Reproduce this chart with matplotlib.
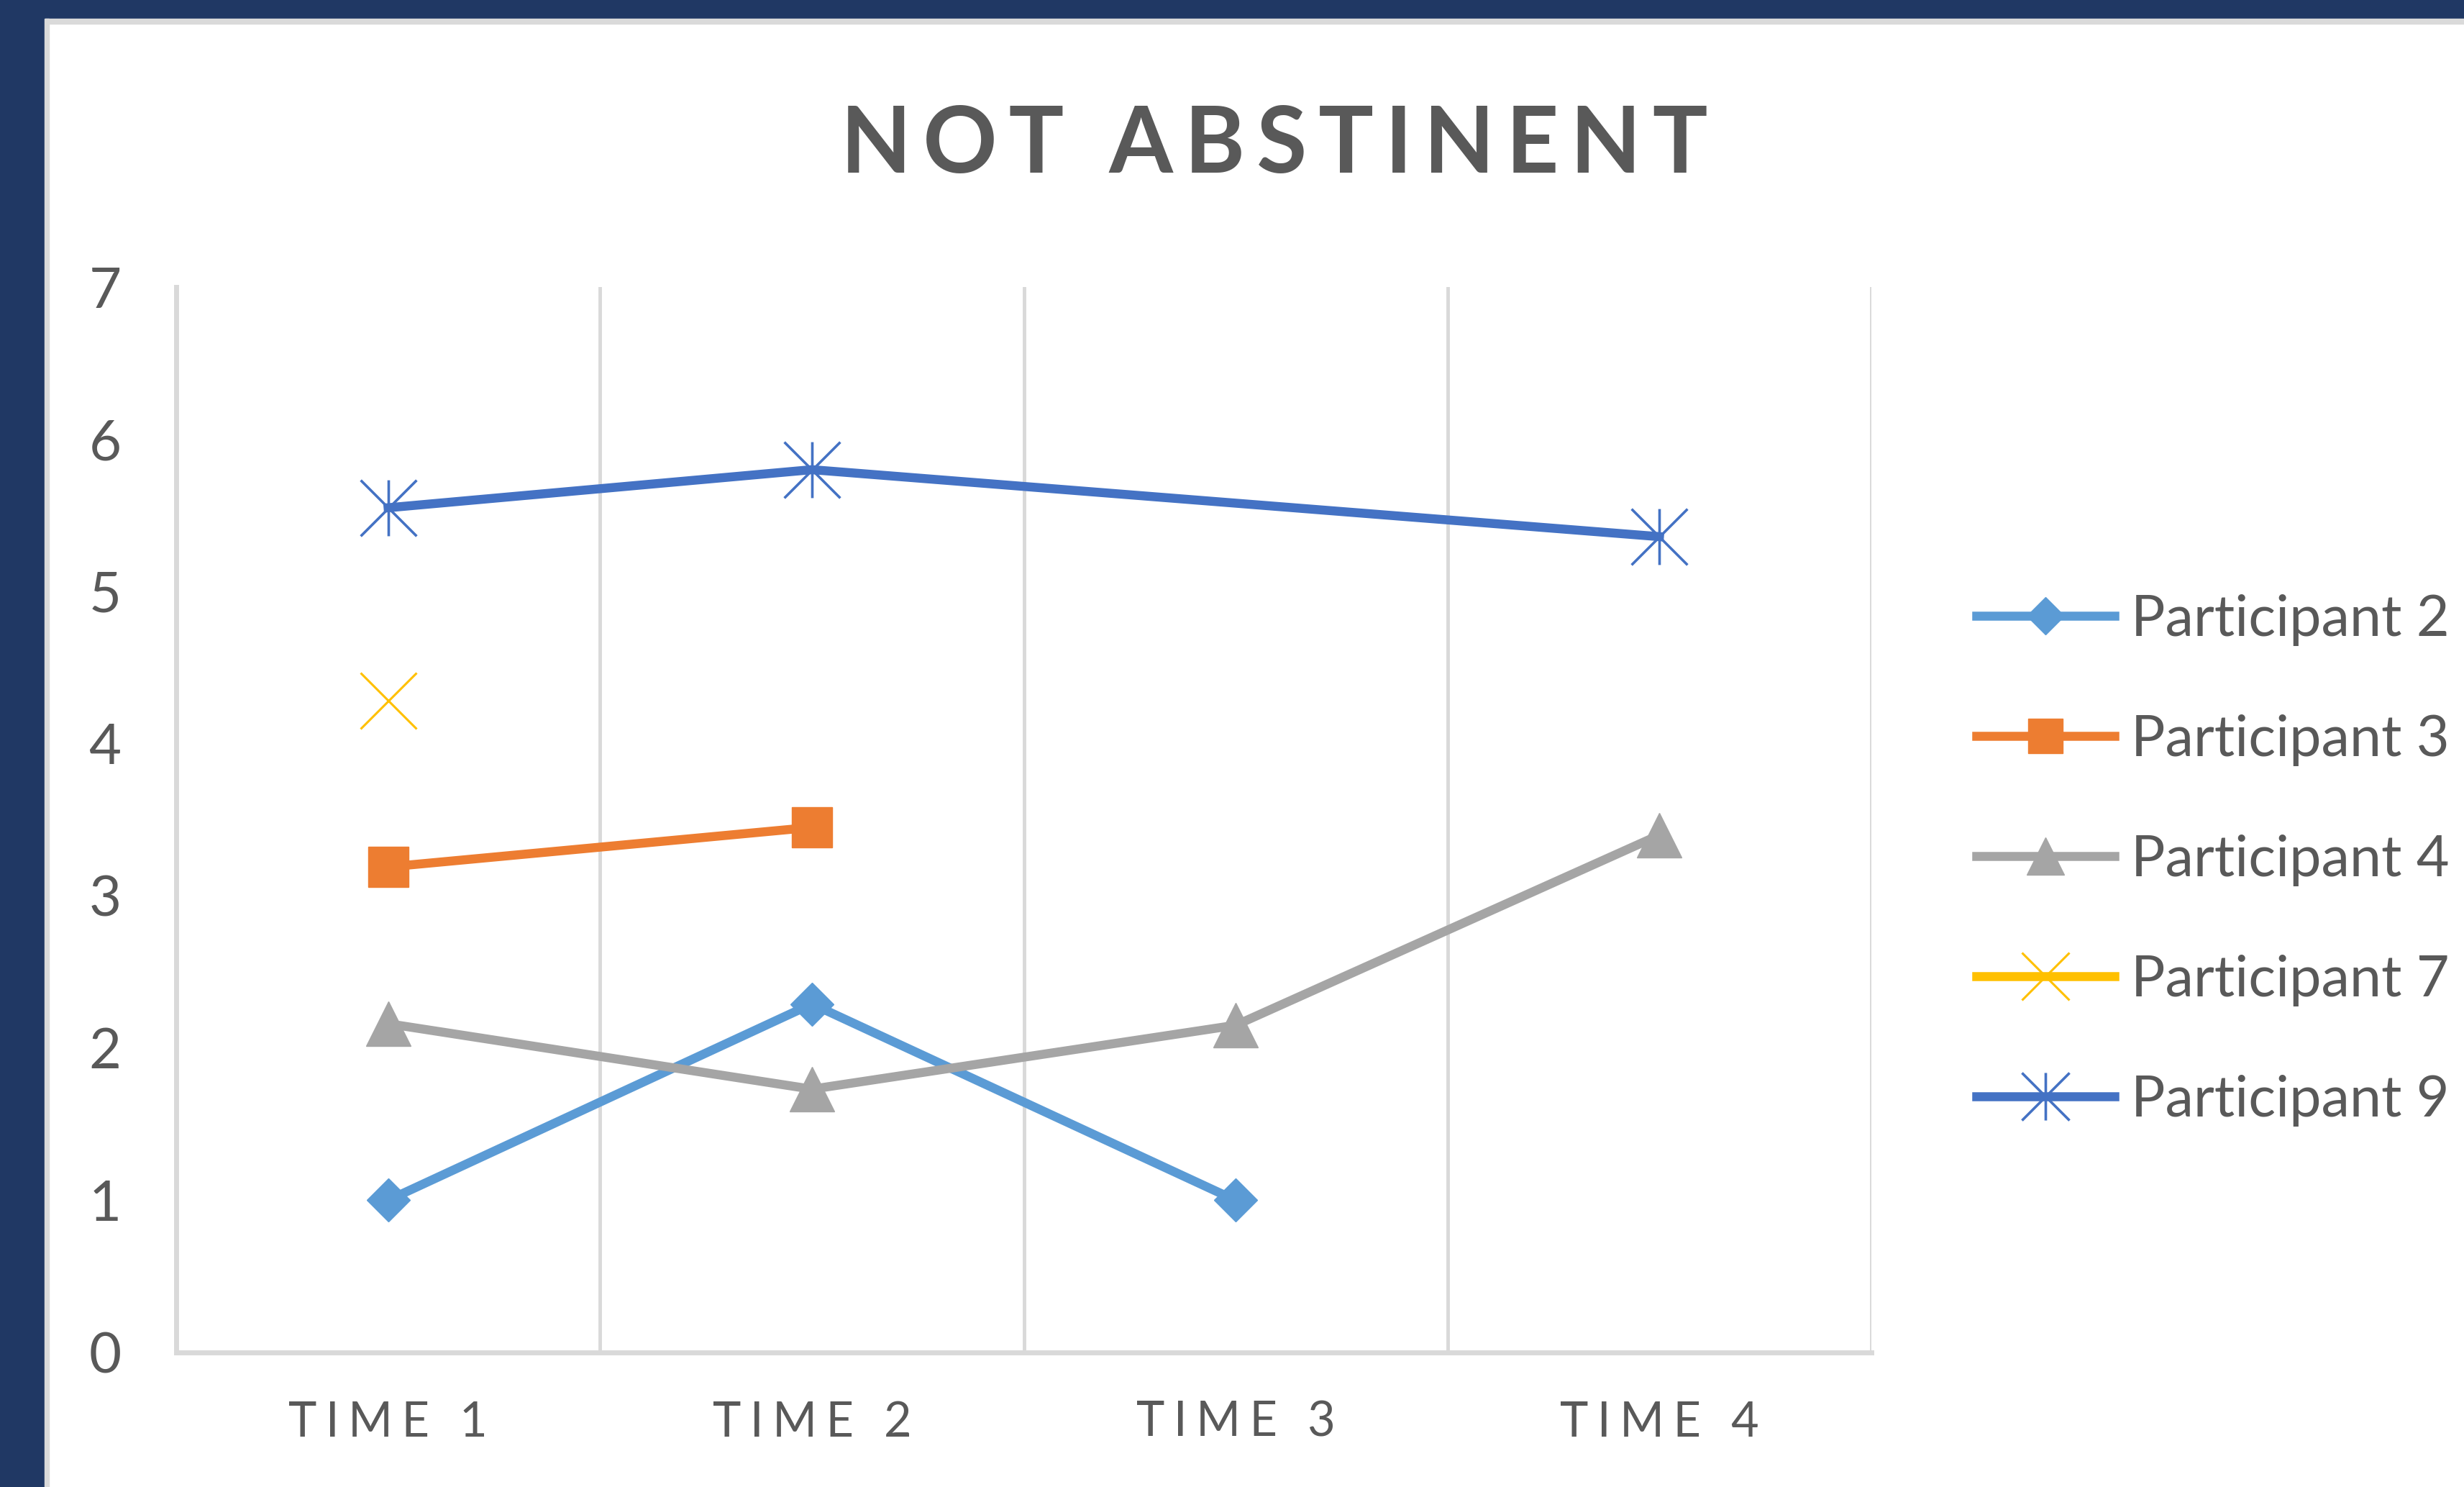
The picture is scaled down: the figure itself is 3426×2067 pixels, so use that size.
import numpy as np
import matplotlib
matplotlib.use("Agg")
import matplotlib.pyplot as plt
from matplotlib.path import Path
from matplotlib.patches import Rectangle

# ---- data ----
categories = ["TIME 1", "TIME 2", "TIME 3", "TIME 4"]
participant_2 = [1.0, 2.29, 1.0, np.nan]
participant_3 = [3.19, 3.45, np.nan, np.nan]
participant_4 = [2.16, 1.73, 2.15, 3.40]
participant_7 = [4.28, np.nan, np.nan, np.nan]
participant_9 = [5.55, 5.80, np.nan, 5.36]
series_names = ["Participant 2", "Participant 3", "Participant 4", "Participant 7", "Participant 9"]
y_ticks = [0, 1, 2, 3, 4, 5, 6, 7]
title_text = "NOT ABSTINENT"

FONT = ["Lato", "DejaVu Sans"]
TXT = "#595959"
GRID = "#D9D9D9"

def spaced(s, sep="\u200a"):
    return sep.join(list(s))

star_path = Path([(-1, -1), (1, 1), (-1, 1), (1, -1), (0, -1), (0, 1)],
                 [Path.MOVETO, Path.LINETO, Path.MOVETO, Path.LINETO, Path.MOVETO, Path.LINETO])

W, H = 3426, 2067
fig = plt.figure(figsize=(W / 100, H / 100), dpi=100)
fig.patch.set_facecolor("white")

# frame borders
navy = "#203864"
fig.patches.append(Rectangle((0, 1 - 26 / H), 1, 26 / H, transform=fig.transFigure, color=navy, zorder=0))
fig.patches.append(Rectangle((62 / W, 1 - 33 / H), 1, 7 / H, transform=fig.transFigure, color="#DADADA", zorder=0))
fig.patches.append(Rectangle((0, 0), 62 / W, 1, transform=fig.transFigure, color=navy, zorder=0))
fig.patches.append(Rectangle((62 / W, 0), 6 / W, 1 - 26 / H, transform=fig.transFigure, color="#DADADA", zorder=0))

ax = fig.add_axes([245 / W, (H - 1880) / H, (2602 - 245) / W, (1880 - 399) / H])
x = np.arange(len(categories))

styles = [
    (participant_2, "#5B9BD5", "D", 31, 1),
    (participant_3, "#ED7D31", "s", 40, 1),
    (participant_4, "#A5A5A5", "^", 44, 1),
    (participant_7, "#FFC000", "x", 56, 2.2),
    (participant_9, "#4472C4", star_path, 56, 2.6),
]
for (vals, col, mk, ms, mew), name in zip(styles, series_names):
    v = np.array(vals, dtype=float)
    m = ~np.isnan(v)
    ax.plot(x[m], v[m], color=col, lw=9, marker=mk, markersize=ms,
            markerfacecolor=col, markeredgecolor=col, markeredgewidth=mew,
            label=name, solid_joinstyle="round", zorder=3)

ax.set_xlim(-0.5, len(categories) - 0.5)
ax.set_ylim(0, 7)
for b in np.arange(0.5, len(categories), 1.0):
    ax.axvline(b, color=GRID, lw=3.5, zorder=1)
for s in ["top", "right"]:
    ax.spines[s].set_visible(False)
for s in ["left", "bottom"]:
    ax.spines[s].set_color(GRID)
    ax.spines[s].set_linewidth(5)

ax.set_yticks(y_ticks)
ax.set_yticklabels([str(t) for t in y_ticks], fontsize=56, color=TXT, family=FONT)
ax.set_xticks(x)
ax.set_xticklabels([spaced(c, "\u2009\u200a") for c in categories], fontsize=48, color=TXT, family=FONT)
ax.tick_params(axis="both", length=0)
ax.tick_params(axis="y", pad=55)
ax.tick_params(axis="x", pad=48)

fig.text(1772 / W, 1 - 240 / H, spaced(title_text, "\u2009"), ha="center", va="baseline",
         fontsize=92, fontweight="bold", color=TXT, family=FONT)

leg = ax.legend(loc="upper left", bbox_to_anchor=(2748 / W, 1 - 826 / H), bbox_transform=fig.transFigure,
                frameon=False, fontsize=57, handlelength=2.42, handletextpad=0.3,
                labelspacing=1.2, borderpad=0, borderaxespad=0, markerscale=0.85)
for t in leg.get_texts():
    t.set_color(TXT)
    t.set_family(FONT)

fig.savefig("out.png", dpi=100, facecolor="white")
